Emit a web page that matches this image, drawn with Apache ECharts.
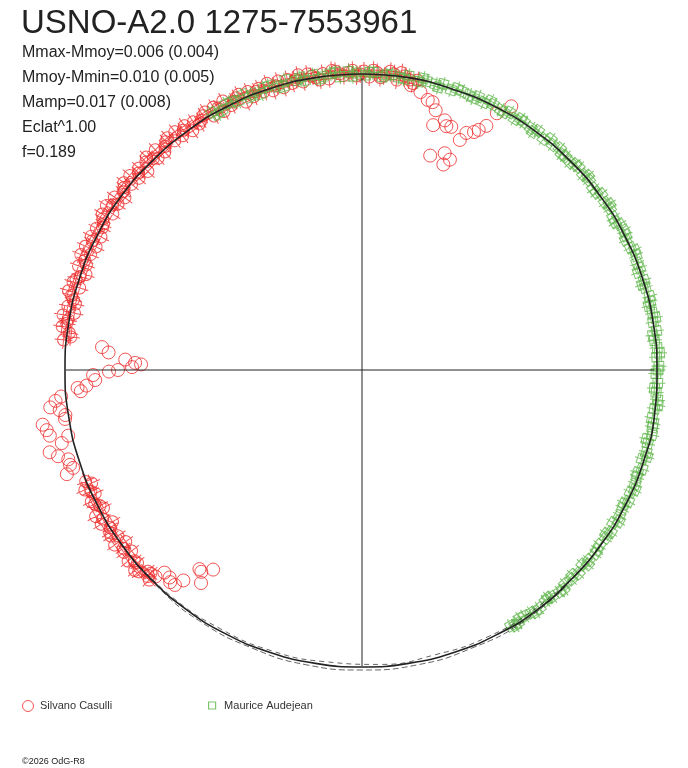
<!DOCTYPE html>
<html>
<head>
  <meta charset="utf-8">
  <title>USNO-A2.0 1275-7553961</title>
  <script src="https://cdn.jsdelivr.net/npm/echarts/dist/echarts.min.js"></script>
  <style>
    html, body { margin: 0; padding: 0; background: #fff; }
    #chart1 { width: 688px; height: 768px; }
  </style>
</head>
<body>
<div id="chart1"></div>
<script type="text/javascript">
  // [phase, delta mag]
  let casulliBand = [
    [0.626,0.002],[0.628,-0.004],[0.630,-0.003],[0.633,0.004],[0.635,0.006],[0.637,-0.001],[0.639,0.000],[0.641,0.005],
    [0.644,-0.004],[0.646,0.003],[0.648,0.001],[0.650,-0.005],[0.652,0.006],[0.655,-0.002],[0.657,0.004],[0.659,0.003],
    [0.661,0.000],[0.663,-0.005],[0.665,0.006],[0.667,0.002],[0.670,0.007],[0.672,-0.004],[0.674,-0.002],[0.676,0.002],
    [0.678,0.004],[0.681,-0.003],[0.683,0.000],[0.685,0.005],[0.687,-0.004],[0.689,0.001],
    [0.766,0.003],[0.768,-0.004],[0.770,-0.002],[0.773,0.006],[0.775,0.002],[0.777,0.001],[0.779,0.007],[0.781,-0.004],
    [0.784,0.004],[0.786,-0.003],[0.788,0.000],[0.790,0.003],[0.792,0.007],[0.795,-0.003],[0.797,0.005],[0.799,0.003],
    [0.801,0.000],[0.803,-0.005],[0.806,0.005],[0.808,-0.002],[0.810,0.001],[0.812,0.007],[0.814,-0.002],[0.817,0.006],
    [0.819,-0.004],[0.821,0.002],[0.823,0.005],[0.825,-0.004],[0.828,0.004],[0.830,-0.001],[0.832,0.000],[0.834,0.003],
    [0.836,0.006],[0.839,-0.003],[0.841,0.007],[0.843,0.002],[0.845,-0.002],[0.847,0.005],[0.850,-0.004],[0.852,0.001],
    [0.854,0.003],[0.856,0.006],[0.858,-0.001],[0.861,0.006],[0.863,-0.003],[0.865,0.001],[0.867,0.004],[0.869,-0.005],
    [0.872,0.003],[0.874,0.006],[0.876,0.000],[0.878,-0.003],[0.880,0.005],[0.883,-0.003],[0.885,0.001],[0.887,0.004],
    [0.889,0.006],[0.891,-0.001],[0.894,0.006],[0.896,-0.002],[0.898,0.002],[0.900,0.005],[0.902,-0.004],[0.905,0.003],
    [0.907,-0.002],[0.909,0.000],[0.911,0.003],[0.913,0.005],[0.916,-0.003],[0.918,0.005],[0.920,0.002],[0.922,-0.004],
    [0.924,0.006],[0.927,-0.002],[0.929,0.001],[0.931,0.003],[0.933,0.005],[0.935,-0.005],[0.938,0.004],[0.940,-0.003],
    [0.942,0.001],[0.944,0.003],[0.946,-0.002],[0.949,0.005],[0.951,-0.004],[0.953,0.000],[0.955,0.004],[0.957,-0.004],
    [0.960,0.003],[0.962,-0.002],[0.964,0.001],[0.966,0.005],[0.968,-0.003],[0.971,0.004],[0.973,0.001],[0.975,-0.001],
    [0.977,-0.004],[0.979,0.002],[0.982,-0.004],[0.984,0.004],[0.986,0.003],[0.988,0.000],[0.990,-0.002],[0.993,0.001],
    [0.995,0.003],[0.997,-0.003],[0.999,-0.001],[0.001,0.002],[0.004,-0.004],[0.006,0.003],[0.008,0.001],[0.010,-0.004],
    [0.012,-0.002],[0.015,0.003],[0.017,0.001],[0.019,-0.005],[0.021,0.003],[0.023,0.000],[0.026,-0.003],[0.028,-0.006],
    [0.030,-0.002]
  ];

  let casulliOut = [
    [0.764,-0.036],[0.761,-0.043],[0.757,-0.060],[0.755,-0.070],[0.754,-0.076],[0.752,-0.067],[0.750,-0.053],[0.749,-0.044],
    [0.747,-0.028],[0.744,-0.030],[0.741,-0.021],[0.740,-0.012],[0.738,-0.015],[0.736,0.005],[0.734,0.011],[0.731,0.017],
    [0.729,0.008],[0.726,0.003],[0.724,0.004],[0.723,0.027],[0.720,0.024],[0.717,0.022],[0.715,0.004],[0.712,0.012],
    [0.709,0.026],[0.706,0.019],[0.703,0.010],[0.700,0.010],[0.698,0.008],[0.696,0.016],
    [0.038,-0.019],[0.041,-0.020],[0.044,-0.027],[0.045,-0.042],[0.051,-0.034],[0.053,-0.039],[0.056,-0.038],[0.064,-0.047],
    [0.066,-0.038],[0.070,-0.034],[0.072,-0.030],[0.075,-0.023],[0.082,0.006],[0.049,-0.072],[0.058,-0.065],[0.063,-0.069],
    [0.060,-0.076],[0.077,-0.007],[0.027,-0.008],[0.033,-0.013],
    [0.628,0.000],[0.625,-0.005],[0.623,-0.014],[0.619,-0.014],[0.617,-0.011],[0.614,-0.012],[0.612,-0.021],[0.609,-0.040],
    [0.607,-0.039],[0.602,-0.048],[0.603,-0.030]
  ];

  let audejean = [
    [0.916,0.001],[0.918,-0.003],[0.921,-0.002],[0.925,0.002],[0.928,0.001],[0.931,-0.001],[0.935,0.003],[0.938,-0.002],
    [0.940,0.000],[0.944,-0.003],[0.947,0.002],[0.950,0.002],[0.954,-0.001],[0.957,-0.003],[0.959,0.003],[0.965,0.000],
    [0.967,0.002],[0.969,-0.002],[0.974,0.002],[0.977,-0.003],[0.979,-0.001],[0.983,0.001],[0.986,0.002],[0.988,-0.003],
    [0.993,0.002],[0.995,-0.003],[0.997,0.000],
    [0.002,-0.002],[0.004,0.001],[0.006,0.001],[0.011,-0.003],[0.013,-0.001],[0.016,0.000],[0.020,-0.002],[0.023,-0.003],
    [0.025,0.001],[0.031,-0.003],[0.033,0.001],[0.035,-0.001],[0.040,-0.002],[0.042,-0.004],[0.044,0.000],[0.049,-0.003],
    [0.052,0.000],[0.055,-0.001],[0.059,-0.002],[0.062,-0.003],[0.064,0.000],[0.068,-0.003],[0.071,0.001],[0.073,-0.001],
    [0.078,-0.002],[0.080,-0.003],[0.083,0.000],[0.087,-0.003],[0.090,0.000],[0.092,-0.001],[0.097,-0.002],[0.099,-0.004],
    [0.101,0.000],[0.106,-0.003],[0.109,0.001],[0.112,-0.002],[0.116,0.000],[0.119,-0.003],[0.121,-0.002],[0.125,-0.003],
    [0.128,-0.001],[0.130,0.000],[0.135,-0.002],[0.137,0.001],[0.139,-0.001],[0.144,-0.003],[0.147,-0.003],[0.149,0.000],
    [0.154,-0.002],[0.156,0.001],[0.158,-0.001],[0.163,-0.003],[0.166,-0.004],[0.168,-0.001],[0.172,0.000],[0.175,-0.001],
    [0.177,-0.003],[0.182,-0.002],[0.184,0.001],[0.187,0.000],[0.191,-0.002],[0.194,-0.001],[0.196,-0.004],[0.201,-0.001],
    [0.203,-0.004],[0.205,-0.002],[0.210,0.000],[0.213,-0.001],[0.215,-0.003],[0.219,-0.001],[0.222,0.001],[0.224,-0.002],
    [0.229,0.000],[0.231,-0.004],[0.234,-0.003],[0.238,-0.001],[0.241,0.001],[0.243,-0.002],[0.248,0.000],[0.250,-0.001],
    [0.252,-0.003],[0.257,-0.001],[0.260,-0.004],[0.262,-0.002],[0.266,0.000],[0.269,0.001],[0.271,-0.002],[0.276,-0.003],
    [0.279,-0.001],[0.281,-0.001],[0.285,0.000],[0.288,-0.004],[0.290,-0.002],[0.295,-0.001],[0.297,0.001],[0.299,-0.003],
    [0.304,0.000],[0.307,-0.003],[0.309,-0.002],[0.313,-0.001],[0.316,0.001],[0.318,-0.002],[0.323,0.000],[0.325,-0.003],
    [0.328,-0.002],[0.332,-0.001],[0.335,0.001],[0.337,-0.003],[0.342,0.000],[0.344,-0.003],[0.346,-0.001],[0.351,-0.002],
    [0.354,-0.001],[0.356,0.000],[0.361,-0.001],[0.363,0.001],[0.365,-0.003],[0.370,0.000],[0.373,-0.003],[0.375,-0.001],
    [0.379,-0.002],[0.382,0.001],[0.384,0.000],[0.389,-0.001],[0.391,-0.003],[0.393,-0.002],[0.398,0.000],[0.401,0.001],
    [0.403,-0.001],[0.407,-0.002],[0.410,-0.003],[0.412,0.000],[0.414,0.001],[0.416,-0.001]
  ];

  // fitted light curve, several cycles overlapping
  let model = [
    [0.000,-0.001],[0.025,-0.001],[0.050,-0.002],[0.075,-0.002],[0.100,-0.002],[0.125,-0.002],[0.150,-0.002],[0.175,-0.002],
    [0.200,-0.002],[0.225,-0.002],[0.250,-0.002],[0.275,-0.001],[0.300,-0.001],[0.325,-0.001],[0.350,-0.001],[0.375,-0.001],
    [0.400,0.000],[0.425,0.000],[0.450,0.000],[0.475,0.000],[0.500,0.000],[0.525,0.000],[0.550,0.000],[0.575,0.000],
    [0.600,0.000],[0.625,0.000],[0.650,0.000],[0.675,0.000],[0.700,0.000],[0.725,0.000],[0.750,0.000],[0.775,0.000],
    [0.800,0.000],[0.825,0.000],[0.850,0.000],[0.875,-0.001],[0.900,-0.001],[0.925,-0.001],[0.950,-0.001],[0.975,-0.001],
    [1.000,-0.001]
  ];
  let model2 = [
    [0.380,0.000],[0.410,0.002],[0.440,0.002],[0.470,0.003],[0.500,0.003],[0.530,0.003],[0.560,0.002],[0.590,0.002],
    [0.620,0.001],[0.650,0.000]
  ];
  let model3 = [
    [0.370,-0.001],[0.400,-0.002],[0.430,-0.002],[0.460,-0.003],[0.490,-0.002],[0.520,-0.003],[0.550,-0.002],[0.580,-0.002],
    [0.610,-0.001],[0.640,0.000]
  ];

  let statLines = ['Mmax-Mmoy=0.006 (0.004)', 'Mmoy-Mmin=0.010 (0.005)', 'Mamp=0.017 (0.008)', 'Eclat^1.00', 'f=0.189'];

  const RED = '#ee2b2b';
  const GREEN = '#5cb548';
  const INK = '#222222';

  // polar data is [radius, angle]
  function toPolar(arr) { return arr.map(d => [d[1], d[0]]); }

  let myChart1 = echarts.init(document.getElementById('chart1'));

  myChart1.setOption({
    backgroundColor: '#ffffff',
    animation: false,
    title: {
      text: 'USNO-A2.0 1275-7553961',
      left: 21, top: 7, padding: 0,
      textStyle: { fontSize: 33, fontWeight: 'normal', fontFamily: 'Liberation Sans, Arial', color: INK }
    },
    graphic: statLines.map((t, i) => ({
      type: 'text', left: 22, top: 45 + i * 24.8,
      style: { text: t, fontSize: 16, fontFamily: 'Liberation Sans, Arial', fill: INK }
    })).concat([{
      type: 'text', left: 22, top: 757,
      style: { text: '©2026 OdG-R8', fontSize: 9, fontFamily: 'Liberation Sans, Arial', fill: INK }
    }]),
    legend: [
      {
        left: 17, top: 695, itemWidth: 14, itemHeight: 11,
        textStyle: { fontSize: 11, fontFamily: 'Liberation Sans, Arial', color: '#333' },
        data: [{ name: 'Silvano Casulli', icon: 'circle',
          itemStyle: { color: 'transparent', borderColor: RED, borderWidth: 1 } }]
      },
      {
        left: 203, top: 695, itemWidth: 14, itemHeight: 7,
        textStyle: { fontSize: 11, fontFamily: 'Liberation Sans, Arial', color: '#333' },
        data: [{ name: 'Maurice Audejean', icon: 'path://M0 0 L10 0 L10 10 L0 10 Z',
          itemStyle: { color: 'transparent', borderColor: GREEN, borderWidth: 1.2 } }]
      }
    ],
    polar: { center: [362, 370], radius: 350 },
    angleAxis: {
      type: 'value', min: 0, max: 1, startAngle: 90, clockwise: true,
      axisLine: { show: false }, axisTick: { show: false }, axisLabel: { show: false }, splitLine: { show: false }
    },
    radiusAxis: {
      type: 'value', min: -0.297, max: 0.053,
      axisLine: { show: false }, axisTick: { show: false }, axisLabel: { show: false }, splitLine: { show: false }
    },
    series: [
      {
        name: 'axes', type: 'line', coordinateSystem: 'polar', silent: true, symbol: 'none',
        lineStyle: { color: INK, width: 1 },
        data: [[-0.005, 0], [-0.297, 0], [-0.001, 0.5]]
      },
      {
        name: 'axes', type: 'line', coordinateSystem: 'polar', silent: true, symbol: 'none',
        lineStyle: { color: INK, width: 1 },
        data: [[-0.005, 0.25], [-0.297, 0.25], [-0.001, 0.75]]
      },
      {
        name: 'Silvano Casulli', type: 'scatter', coordinateSystem: 'polar',
        symbol: 'path://M10 1 L10 19 M1 10 L19 10 M16 10 A6 6 0 1 1 4 10 A6 6 0 1 1 16 10',
        symbolSize: 18,
        symbolRotate: v => -v[1] * 360,
        itemStyle: { color: 'transparent', borderColor: RED, borderWidth: 1 },
        data: toPolar(casulliBand)
      },
      {
        name: 'Silvano Casulli', type: 'scatter', coordinateSystem: 'polar',
        symbol: 'circle', symbolSize: 13,
        itemStyle: { color: 'transparent', borderColor: RED, borderWidth: 1 },
        data: toPolar(casulliOut)
      },
      {
        name: 'Maurice Audejean', type: 'scatter', coordinateSystem: 'polar',
        symbol: 'path://M8 1 L8 15 M1 8 L15 8 M3.5 3.5 L12.5 3.5 L12.5 12.5 L3.5 12.5 Z',
        symbolSize: 15,
        symbolRotate: v => -v[1] * 360,
        itemStyle: { color: 'transparent', borderColor: GREEN, borderWidth: 1 },
        data: toPolar(audejean)
      },
      {
        name: 'model', type: 'line', coordinateSystem: 'polar', smooth: true, symbol: 'none', silent: true,
        lineStyle: { color: INK, width: 1.6 },
        data: toPolar(model)
      },
      {
        name: 'model', type: 'line', coordinateSystem: 'polar', smooth: true, symbol: 'none', silent: true,
        lineStyle: { color: INK, width: 0.7, type: [6, 3] },
        data: toPolar(model2)
      },
      {
        name: 'model', type: 'line', coordinateSystem: 'polar', smooth: true, symbol: 'none', silent: true,
        lineStyle: { color: INK, width: 0.7, type: [5, 4] },
        data: toPolar(model3)
      }
    ]
  });
</script>
</body>
</html>
